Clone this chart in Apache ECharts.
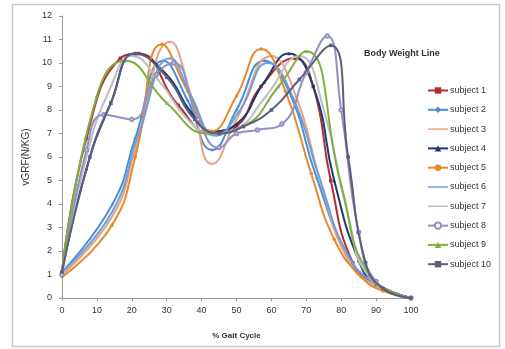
<!DOCTYPE html>
<html><head><meta charset="utf-8">
<script src="https://cdn.jsdelivr.net/npm/echarts@6/dist/echarts.min.js"></script>
<style>html,body{margin:0;padding:0;background:#fff}#c{width:505px;height:349px}</style>
</head><body><div id="c"></div>
<script>
// ---- data ----
const seriesNames = ['subject 1','subject 2','subject 3','subject 4','subject 5','subject 6','subject 7','subject 8','subject 9','subject 10'];
const s1x = [0, 7, 16.7, 22, 33.3, 43, 50, 57, 66.7, 72, 77, 83.3, 90, 100];
const s1y = [1.1, 6.8, 10.2, 10.4, 8.2, 7.0, 7.3, 9.0, 10.2, 9.0, 5.0, 1.5, 0.6, 0];
const s2x = [0, 14.5, 21, 29, 36, 43, 50, 58, 65, 73, 82, 90, 100];
const s2y = [1.1, 4.0, 6.8, 10.1, 8.4, 6.3, 8.0, 10.1, 8.8, 5.1, 1.8, 0.6, 0];
const s3x = [0, 14.5, 21, 31, 37, 43, 50, 60, 67, 74, 82, 90, 100];
const s3y = [1.0, 3.5, 6.3, 10.9, 8.6, 5.7, 7.6, 10.3, 8.6, 5.0, 1.6, 0.5, 0];
const s4x = [0, 7, 14, 21, 30, 37, 43, 50, 58, 65, 72, 78, 85, 90, 100];
const s4y = [1.1, 5.5, 8.3, 10.4, 9.5, 7.9, 7.1, 7.4, 9.2, 10.4, 9.0, 5.0, 1.6, 0.6, 0];
const s5x = [0, 14.3, 21, 28.6, 36, 42.9, 50, 57.1, 64, 71.4, 78, 85.7, 92, 100];
const s5y = [0.9, 3.1, 6.0, 10.8, 8.8, 7.1, 8.6, 10.6, 8.8, 5.3, 2.5, 0.9, 0.3, 0];
const s6x = [0, 14.5, 22, 31, 37, 44, 51, 59, 66, 74, 82, 90, 100];
const s6y = [1.1, 3.7, 7.0, 10.2, 8.6, 6.9, 8.0, 10.0, 8.6, 5.0, 1.8, 0.6, 0];
const s7x = [0, 7, 14, 20, 28, 36, 43, 50, 58, 68, 75, 82, 88, 100];
const s7y = [1.0, 6.0, 9.0, 10.3, 9.2, 7.6, 7.0, 7.2, 8.5, 10.3, 8.0, 3.5, 0.9, 0];
const s8x = [0, 7, 12, 20, 27, 32, 39, 45, 50, 56, 63, 70, 76, 80, 85, 90, 100];
const s8y = [1.0, 6.3, 7.8, 7.6, 9.5, 10.0, 7.6, 6.4, 7.0, 7.15, 7.4, 9.6, 11.15, 8.0, 2.8, 0.7, 0];
const s9x = [0, 10, 18, 30, 42, 52, 62, 70, 80, 88, 100];
const s9y = [1.1, 8.6, 10.1, 8.3, 7.0, 7.3, 9.0, 10.5, 4.8, 1.0, 0];
const s10x = [0, 8, 14, 21, 30, 38, 45, 52, 60, 68, 77, 82, 87, 92, 100];
const s10y = [1.1, 6.0, 8.3, 10.4, 9.4, 7.6, 7.0, 7.3, 8.0, 9.3, 10.75, 6.0, 1.5, 0.4, 0];
const xTicks = [0,10,20,30,40,50,60,70,80,90,100];
const yTicks = [0,1,2,3,4,5,6,7,8,9,10,11,12];

const xs = [s1x,s2x,s3x,s4x,s5x,s6x,s7x,s8x,s9x,s10x];
const ys = [s1y,s2y,s3y,s4y,s5y,s6y,s7y,s8y,s9y,s10y];
const colors = ['#B0302E','#4A8FD2','#E8A37E','#1F3A70','#E8892B','#6E9EDC','#BDBDC6','#9090C4','#7FAF3F','#5E5C80'];
const symbols = ['rect','diamond','none','triangle','circle','none','none','emptyCircle','triangle','rect'];

const chart = echarts.init(document.getElementById('c'), null, {renderer:'canvas'});
const font = 'Liberation Sans';
const series = seriesNames.map((n,i)=>({
  name:n, type:'line', smooth:0.5, data: xs[i].map((x,j)=>[x, ys[i][j]]),
  symbol: symbols[i], symbolSize: 3.5, showSymbol: symbols[i] !== 'none',
  lineStyle:{color:colors[i], width:2}, itemStyle:{color:colors[i]},
  z: 2+i
}));
const linePath = 'path://M0,0L40,0L40,3L0,3Z';
chart.setOption({
  animation:false,
  backgroundColor:'#fff',
  grid:{left:62, right:94, top:16, bottom:51},
  xAxis:{type:'value', min:0, max:100, interval:10,
    name:'% Gait Cycle', nameLocation:'middle', nameGap:34,
    nameTextStyle:{fontFamily:font, fontSize:8, color:'#333', fontWeight:'bold'},
    axisLine:{lineStyle:{color:'#999'}}, axisTick:{show:true, length:3, lineStyle:{color:'#999'}},
    axisLabel:{fontFamily:font, fontSize:9, color:'#333', margin:8, formatter:v=>xTicks.includes(v)?String(v):''},
    splitLine:{show:false}},
  yAxis:{type:'value', min:0, max:12, interval:1,
    name:'vGRF(N/KG)', nameLocation:'middle', nameGap:26, nameRotate:90,
    nameTextStyle:{fontFamily:font, fontSize:10, color:'#333'},
    axisLine:{show:true, lineStyle:{color:'#999'}}, axisTick:{show:true, length:3, lineStyle:{color:'#999'}},
    axisLabel:{fontFamily:font, fontSize:9, color:'#333', margin:10, formatter:v=>yTicks.includes(v)?String(v):''},
    splitLine:{show:false}},
  legend:{orient:'vertical', left:422, top:81, itemWidth:20, itemHeight:8, itemGap:10.3,
    textStyle:{fontFamily:font, fontSize:9, color:'#333', padding:[0,0,0,-3]},
    data: seriesNames.map((n,i)=> symbols[i]==='none' ? {name:n, icon:linePath} : {name:n})},
  graphic:[
    {type:'rect', shape:{x:12.5, y:4.5, width:487, height:342}, style:{fill:'none', stroke:'#c8c8c8', lineWidth:1.5}, silent:true, z:-1},
    {type:'text', left:364, top:49, style:{text:'Body Weight Line', fontFamily:font, fontSize:9, fontWeight:'bold', fill:'#333'}}
  ],
  series: series
});
</script></body></html>
